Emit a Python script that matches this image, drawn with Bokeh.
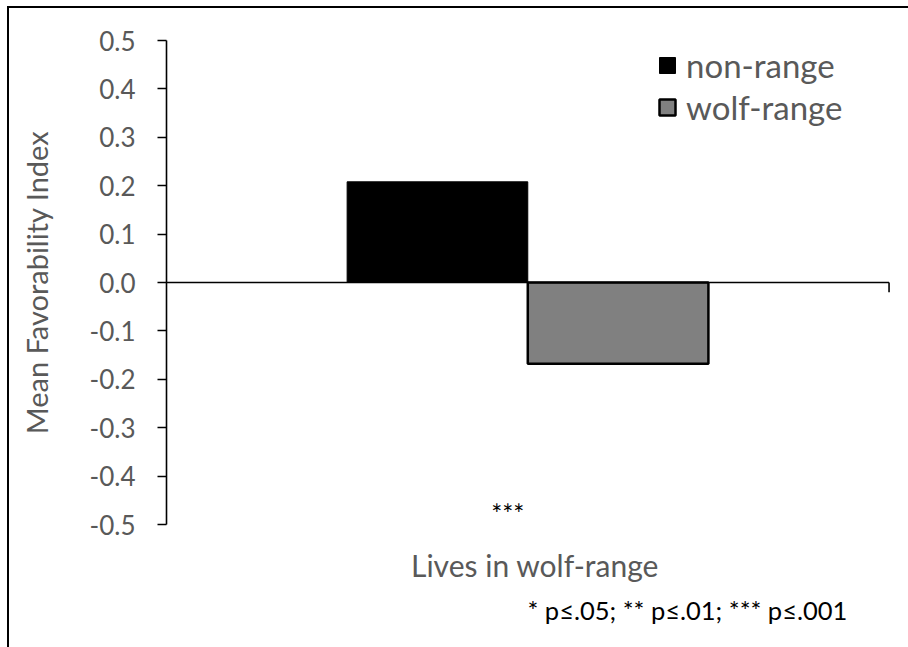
from bokeh.plotting import figure
from bokeh.models import (Range1d, FixedTicker, LinearAxis, Legend, LegendItem,
                          ColumnDataSource, Label, Title)
from bokeh.embed import file_html
from bokeh.resources import INLINE

# ---- data ----
category = "Lives in wolf-range"
series = ["non-range", "wolf-range"]
values = [0.208, -0.168]
colors = ["#000000", "#808080"]
significance = "***"
y_ticks = [0.5, 0.4, 0.3, 0.2, 0.1, 0.0, -0.1, -0.2, -0.3, -0.4, -0.5]
y_tick_labels = ["0.5", "0.4", "0.3", "0.2", "0.1", "0.0", "-0.1", "-0.2", "-0.3", "-0.4", "-0.5"]
y_title = "Mean Favorability Index"
footnote = "* p\u2264.05; ** p\u2264.01; *** p\u2264.001"

FONT = "Lato"
GREY = "#595959"

bar_w = 0.25
xs = [0.5 + (i - (len(series) - 1) / 2) * bar_w for i in range(len(series))]

p = figure(width=908, height=647, x_range=Range1d(0, 1.02), y_range=Range1d(-0.5, 0.5),
           output_backend="svg", toolbar_location=None,
           min_border_left=166, min_border_right=5, min_border_top=40, min_border_bottom=123,
           x_axis_location=None, y_axis_location=None)
# outer frame (top & left edges) drawn as inset shadows behind a transparent border area
p.styles = {"background-color": "white",
            "box-shadow": "inset 7px 6px 0 0 white, inset 9px 8px 0 0 black"}
p.grid.visible = False
p.outline_line_color = None
p.background_fill_color = "white"
p.border_fill_alpha = 0

renderers = []
line_widths = [1, 2.5]
for i, name in enumerate(series):
    src = ColumnDataSource(dict(x=[xs[i]], top=[values[i]]))
    r = p.vbar(x="x", top="top", bottom=0, width=bar_w, source=src,
               fill_color=colors[i], line_color="black", line_width=line_widths[i])
    renderers.append(r)

# horizontal category axis line at zero with end tick
p.segment(x0=[0], y0=[0], x1=[1], y1=[0], line_color="black", line_width=1.6)
p.segment(x0=[1], y0=[0], x1=[1], y1=[-0.02], line_color="black", line_width=1.6)

# y axis
yaxis = LinearAxis(ticker=FixedTicker(ticks=y_ticks),
                   major_label_overrides={t: l for t, l in zip(y_ticks, y_tick_labels)})
yaxis.axis_line_width = 1.6
yaxis.major_tick_line_width = 1.6
yaxis.major_tick_out = 9
yaxis.major_tick_in = 0
yaxis.minor_tick_line_color = None
yaxis.major_label_text_font = FONT
yaxis.major_label_text_font_size = "26px"
yaxis.major_label_text_color = GREY
yaxis.major_label_standoff = 22
yaxis.axis_label = y_title
yaxis.axis_label_text_font = FONT
yaxis.axis_label_text_font_size = "29px"
yaxis.axis_label_text_font_style = "normal"
yaxis.axis_label_text_color = GREY
yaxis.axis_label_standoff = 33
p.add_layout(yaxis, "left")

# x axis (title only)
xaxis = LinearAxis(ticker=FixedTicker(ticks=[]))
xaxis.axis_line_color = None
xaxis.major_tick_line_color = None
xaxis.minor_tick_line_color = None
xaxis.major_tick_out = 0
xaxis.major_tick_in = 0
xaxis.major_label_standoff = 0
xaxis.axis_label = category
xaxis.axis_label_text_font = FONT
xaxis.axis_label_text_font_size = "30px"
xaxis.axis_label_text_font_style = "normal"
xaxis.axis_label_text_color = GREY
xaxis.axis_label_standoff = 22
p.add_layout(xaxis, "below")

# footnote
note = Title(text=footnote, align="left", offset=361, text_font=FONT,
             text_font_size="25.5px", text_font_style="normal", text_color="black",
             standoff=14)
p.add_layout(note, "below")

# significance stars
p.add_layout(Label(x=0.5, y=-0.479, text=significance, text_font=FONT, text_font_size="26px",
                   text_color="black", text_align="center", text_baseline="middle",
                   x_offset=-20))

# legend
legend = Legend(items=[LegendItem(label=s, renderers=[r]) for s, r in zip(series, renderers)],
                location=(491, 397), orientation="vertical")
legend.background_fill_alpha = 0
legend.border_line_color = None
legend.padding = 0
legend.margin = 0
legend.spacing = 2
legend.glyph_width = 20
legend.glyph_height = 20
legend.label_standoff = 9
legend.label_text_font = FONT
legend.label_text_font_size = "33px"
legend.label_text_color = GREY
legend.label_height = 34
p.add_layout(legend, "center")

open("out.html", "w").write(file_html(p, INLINE))
